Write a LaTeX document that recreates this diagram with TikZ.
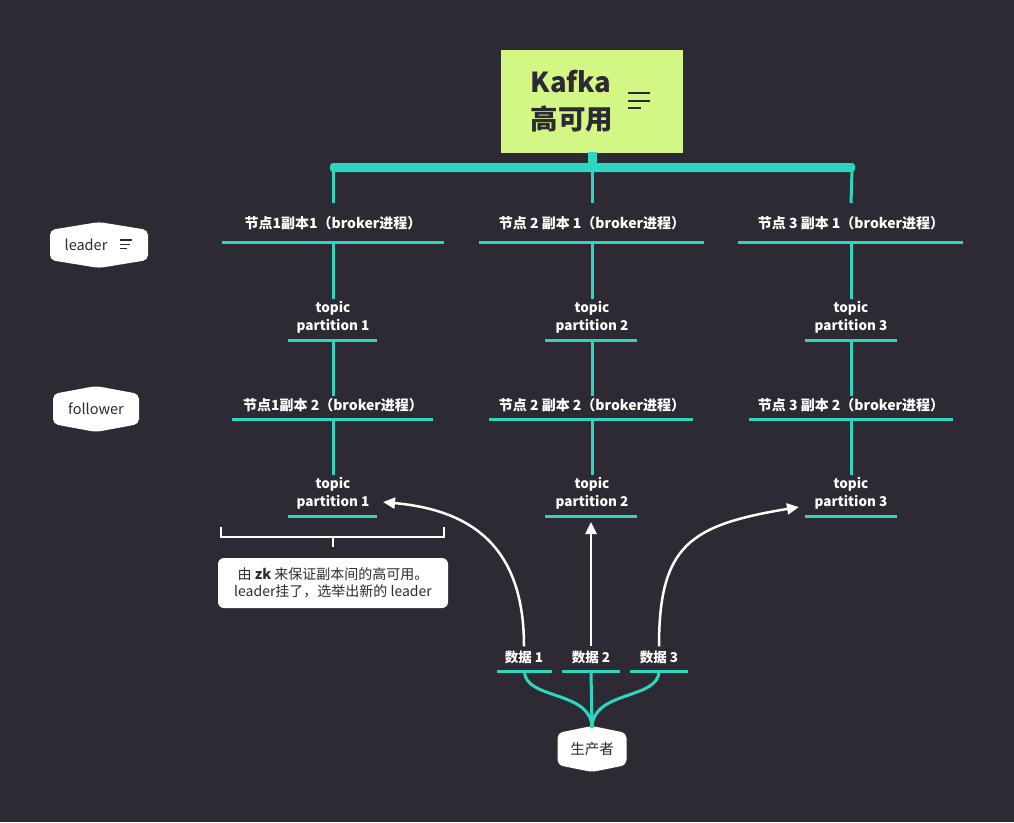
\documentclass[tikz,border=0pt]{standalone}
\usepackage{fontspec}
\setmainfont{Noto Sans CJK SC}
\usetikzlibrary{arrows.meta}
\definecolor{bgc}{HTML}{2E2A33}
\definecolor{tealc}{HTML}{2ED6C1}
\definecolor{limec}{HTML}{D3F785}
\definecolor{darkc}{HTML}{2E2A33}
\newcommand\mytag[8]{% name, cx, cy, halfw, halfh, point depth, text x, text
  \fill[white, rounded corners=5pt] (#2-#4,#3-#5+#6) -- (#2,#3-#5) -- (#2+#4,#3-#5+#6) -- (#2+#4,#3+#5-#6) -- (#2,#3+#5) -- (#2-#4,#3+#5-#6) -- cycle;
  \node[tagtext] (#1) at (#7,#3) {#8};}
\begin{document}
\begin{tikzpicture}[x=1pt,y=-1pt,
  lbl/.style={text=white, font=\fontsize{14}{17}\selectfont\bfseries, inner sep=2pt},
  dlbl/.style={text=white, font=\fontsize{13.5}{17}\selectfont\bfseries, inner sep=2pt},
  ptn/.style={text=white, align=center, font=\fontsize{13.5}{18}\selectfont\bfseries, inner sep=2pt},
  uline/.style={draw=tealc, line width=3pt},
  conn/.style={draw=tealc, line width=3pt},
  arr/.style={draw=white, line width=2.5pt, -{Triangle[length=12pt,width=11pt]}},
  tagtext/.style={text=darkc, font=\fontsize{14.5}{17}\selectfont, inner sep=2pt},
  icon/.style={draw=darkc, line width=1.4pt}
]
\fill[bgc] (0,0) rectangle (1014,822);
\useasboundingbox (0,0) rectangle (1014,822);

% root
\node[fill=limec, minimum width=182pt, minimum height=103pt, inner sep=0pt] (root) at (592,101.5) {};
\node[text=darkc, align=left, font=\fontsize{27.5}{37}\selectfont\bfseries, inner sep=0pt] (roottxt) at (572,101) {Kafka\\高可用};
\draw[darkc, line width=2pt] (628,93) -- (650,93) (628,101) -- (650,101) (628,108) -- (641,108);

% top bracket
\fill[tealc] (588,152) rectangle (597,165);
\fill[tealc, rounded corners=3pt] (330,163) rectangle (855,172);
\coordinate (bar1) at (333,170);
\coordinate (bar2) at (592,170);
\coordinate (bar3) at (852,170);

% row 1 labels
\node[lbl] (b1) at (333,223) {节点1副本1（broker进程）};
\node[lbl] (b2) at (592,223) {节点 2 副本 1（broker进程）};
\node[lbl] (b3) at (851,223) {节点 3 副本 1（broker进程）};
\draw[uline] (222,242) -- (444,242);
\draw[uline] (479,242) -- (704,242);
\draw[uline] (738,242) -- (963,242);
\coordinate (ub1) at (333,242);
\coordinate (ub2) at (592,242);
\coordinate (ub3) at (851,242);

% partitions row 1
\node[ptn] (p1) at (333,317) {topic\\partition 1};
\node[ptn] (p2) at (592,317) {topic\\partition 2};
\node[ptn] (p3) at (851,317) {topic\\partition 3};
\draw[uline] (288,340) -- (377,340);
\draw[uline] (545,340) -- (637,340);
\draw[uline] (805,340) -- (897,340);
\coordinate (up1) at (333,340);
\coordinate (up2) at (592,340);
\coordinate (up3) at (851,340);

% row 2 labels
\node[lbl] (f1) at (333,405) {节点1副本 2（broker进程）};
\node[lbl] (f2) at (592,405) {节点 2 副本 2（broker进程）};
\node[lbl] (f3) at (851,405) {节点 3 副本 2（broker进程）};
\draw[uline] (232,419) -- (433,419);
\draw[uline] (489,419) -- (693,419);
\draw[uline] (749,419) -- (953,419);
\coordinate (uf1) at (333,419);
\coordinate (uf2) at (592,419);
\coordinate (uf3) at (851,419);

% partitions row 2
\node[ptn] (q1) at (333,493) {topic\\partition 1};
\node[ptn] (q2) at (592,493) {topic\\partition 2};
\node[ptn] (q3) at (851,493) {topic\\partition 3};
\draw[uline] (288,516) -- (377,516);
\draw[uline] (545,516) -- (637,516);
\draw[uline] (805,516) -- (897,516);

% vertical connectors
\foreach \i in {1,2,3}{
  \draw[conn] (bar\i) -- ([yshift=11pt]b\i.north);
  \draw[conn] (ub\i) -- (p\i.north);
  \draw[conn] (up\i) -- (f\i.north);
  \draw[conn] (uf\i) -- (q\i.north);
}

% tags
\mytag{leader}{99}{245}{49}{23}{8}{86}{leader}
\draw[icon] (120,240) -- (132,240) (120,244.3) -- (130,244.3) (120,248.7) -- (127,248.7);
\mytag{follower}{96}{409}{43}{23}{8}{96}{follower}

% bracket and note
\draw[white, line width=2pt] (221,527) -- (221,537) -- (444,537) -- (444,527);
\coordinate (brk) at (333,537);
\node[fill=white, rounded corners=6pt, minimum width=230pt, minimum height=50pt, inner sep=0pt,
      text=darkc, align=center, font=\fontsize{14}{17}\selectfont] (note) at (333,583)
  {由 \textbf{zk} 来保证副本间的高可用。\\leader挂了，选举出新的 leader};
\draw[white, line width=2pt] (brk) -- (333,547);

% data
\node[dlbl] (d1) at (524,657) {数据 1};
\node[dlbl] (d2) at (591,657) {数据 2};
\node[dlbl] (d3) at (659,657) {数据 3};
\draw[uline] (497,671) -- (552,671);
\draw[uline] (562,671) -- (620,671);
\draw[uline] (630,671) -- (688,671);
\coordinate (ud1) at (524.5,671);
\coordinate (ud2) at (591,671);
\coordinate (ud3) at (659,671);

% producer
\mytag{prod}{592}{749}{34.5}{23}{7}{592}{生产者}
\draw[conn] (592,728) .. controls (592,690) and (524,700) .. (ud1);
\draw[conn] (592,728) -- (ud2);
\draw[conn] (592,728) .. controls (592,690) and (659,700) .. (ud3);

% arrows
\coordinate (a1) at (383,502);
\coordinate (a2) at (591,522);
\coordinate (a3) at (799,507);
\draw[arr] (d1.north) ++(0,-2) .. controls (524,545) and (470,510) .. (a1);
\draw[arr] ([yshift=2pt]d2.north) -- (a2);
\draw[arr] ([yshift=2pt]d3.north) .. controls (659,545) and (690,525) .. (a3);
\end{tikzpicture}
\end{document}
